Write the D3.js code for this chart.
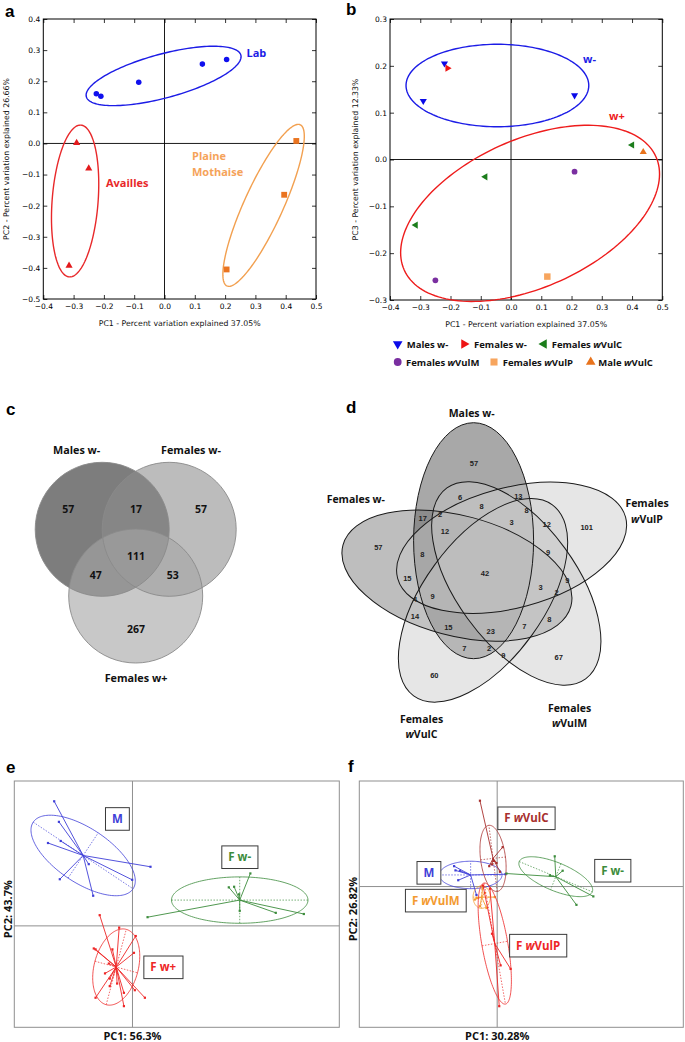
<!DOCTYPE html>
<html><head><meta charset="utf-8">
<script src="https://cdn.jsdelivr.net/npm/d3@7"></script>
<style>body{margin:0;background:#fff}svg{display:block}</style>
</head><body>
<svg id="chart" width="685" height="1042"></svg>
<script>
// ================= DATA =================
// Panel a (PC1 vs PC2)
const ticksAX = [-0.4,-0.3,-0.2,-0.1,0.0,0.1,0.2,0.3,0.4,0.5];
const ticksAY = [-0.5,-0.4,-0.3,-0.2,-0.1,0.0,0.1,0.2,0.3,0.4];
const aLab      = [[-0.225,0.160],[-0.21,0.152],[-0.085,0.197],[0.125,0.255],[0.205,0.270]];
const aAvailles = [[-0.29,0.002],[-0.25,-0.08],[-0.315,-0.393]];
const aPlaine   = [[0.435,0.008],[0.395,-0.165],[0.205,-0.405]];
// ellipses: centre x,y + two semi-axis vectors (data units)
const ellALab      = [-0.003,0.217, 0.255,0.067, 0.019,-0.068];
const ellAAvailles = [-0.295,-0.185, 0.0193,0.244, 0.0756,-0.0058];
const ellAPlaine   = [0.327,-0.199, 0.121,0.259, 0.0585,-0.026];

// Panel b (PC1 vs PC3)
const ticksBX = [-0.4,-0.3,-0.2,-0.1,0.0,0.1,0.2,0.3,0.4,0.5];
const ticksBY = [-0.3,-0.2,-0.1,0.0,0.1,0.2,0.3];
const bMalesWm   = [[-0.22,0.205],[-0.29,0.125],[0.21,0.137]];
const bFemalesWm = [[-0.21,0.195]];
const bFemVulC   = [[0.40,0.031],[-0.085,-0.037],[-0.315,-0.14]];
const bFemVulM   = [[0.21,-0.026],[-0.25,-0.258]];
const bFemVulP   = [[0.12,-0.25]];
const bMaleVulC  = [[0.437,0.016]];
const ellBwMinus = [-0.045,0.158, 0.302,0, 0,0.088];
const ellBwPlus  = [0.063,-0.115, 0.416,0.121, 0.100,-0.144];
const legendBNames = ["Males w-","Females w-","Females *w*VulC","Females *w*VulM","Females *w*VulP","Male *w*VulC"];

// Panel c (3-set Venn)
const vennCSets   = ["Males w-","Females w-","Females w+"];
const vennCCounts = [57,17,57,111,47,53,267];

// Panel d (5-set Venn)
const vennDSets   = ["Males w-","Females w-","Females *w*VulP","Females *w*VulM","Females *w*VulC"];
const vennDCounts = [57,6,13,17,2,8,8,12,3,12,101,57,8,9,42,15,9,3,2,4,9,14,15,23,7,8,7,2,9,67,60];

// Panel e (s.class PC1 56.3% / PC2 43.7%)
const eM   = [[-2.65,4.30],[-2.49,3.59],[-2.43,2.93],[-2.86,2.86],[-1.48,2.13],[-2.46,1.61],[-1.33,1.04],[-0.01,1.59],[0.61,2.04]];
const eFwm = [[3.99,1.81],[3.26,1.33],[3.44,1.35],[3.61,1.09],[3.63,0.52],[4.85,0.45],[5.80,0.41],[0.51,0.30]];
const eFwp = [[-1.11,0.37],[-0.45,-0.06],[0.11,-0.35],[0.05,-0.93],[-1.31,-0.78],[-1.25,-0.81],[-0.68,-0.81],[-0.80,-1.30],[-0.93,-1.64],[-0.77,-1.82],[-0.52,-1.99],[-0.77,-2.08],[-0.29,-2.31],[0.42,-2.48],[-0.29,-2.77],[-1.25,-2.48],[0.08,-2.22]];
const eCentres  = [[-1.67,2.43],[3.63,0.89],[-0.55,-1.42]];
const eEllipses = [[-1.67,2.43,1.69,-1.15,0.51,0.78],[3.63,0.89,2.31,0,0,0.80],[-0.55,-1.42,0.34,1.30,0.72,-0.20]];
const eNames = ["M","F w-","F w+"];

// Panel f (s.class PC1 30.28% / PC2 26.82%)
const fM   = [[-1.25,0.58],[-1.21,0.46],[-1.08,0.45],[-1.13,0.18],[-0.60,-0.24],[0.24,0.35]];
const fVulC= [[-0.50,2.44],[0.16,1.12],[-0.02,0.67],[-0.23,0.58],[-0.15,0.63],[0.08,0.42],[-0.09,0.73]];
const fVulM= [[-0.42,-0.04],[-0.65,-0.37],[-0.60,-0.32],[-0.36,-0.18],[-0.31,-0.61],[-0.50,-0.56],[-0.07,-0.30]];
const fVulP= [[-0.15,-1.34],[0.10,-2.24],[0.39,-2.34],[0.06,-3.40],[-0.41,0.03],[-0.21,-0.06]];
const fFwm = [[1.67,0.86],[1.90,0.45],[1.53,0.32],[2.79,-0.28],[2.30,-0.52],[0.27,0.37]];
const fCentres  = [[-0.77,0.33],[-0.12,0.80],[-0.45,-0.30],[-0.07,-1.62],[1.70,0.28]];
const fEllipses = [[-0.77,0.33,0.91,0,0,0.39],[-0.12,0.80,-0.12,0.94,0.36,0.04],[-0.45,-0.30,0.25,0,0,0.32],[-0.07,-1.62,0.31,-1.72,0.37,0.065],[1.70,0.28,1.06,-0.43,-0.15,-0.37]];
const fNames = ["M","F *w*VulC","F *w*VulM","F *w*VulP","F w-"];

// ================= DRAWING =================
const svg = d3.select("#chart");
svg.append("rect").attr("width",685).attr("height",1042).attr("fill","#fff");
const MPL = "'DejaVu Sans', sans-serif";
const CAL = "'Open Sans', 'Liberation Sans', sans-serif";

function rich(sel, str){
  str.split("*").forEach((p,i)=>{ if(p) sel.append("tspan").attr("font-style", i%2 ? "italic" : "normal").text(p); });
  return sel;
}
function ellPath(x, y, e, n=160){
  const [cx,cy,ux,uy,vx,vy] = e;
  const pts = d3.range(n).map(i=>{const t=2*Math.PI*i/n; return [x(cx+ux*Math.cos(t)+vx*Math.sin(t)), y(cy+uy*Math.cos(t)+vy*Math.sin(t))];});
  return d3.line().curve(d3.curveLinearClosed)(pts);
}

// letters
[["a",5,17],["b",346,15],["c",6,415],["d",346,413],["e",6,773],["f",348,772]].forEach(([t,x,y])=>{
  svg.append("text").attr("x",x).attr("y",y).attr("font-family","'Liberation Sans', Arial, sans-serif").attr("font-weight","bold").attr("font-size",17).attr("fill","#000").text(t);
});

function mplAxes(x, y, xTicks, yTicks, xLab, yLab, yLabX){
  const g = svg.append("g");
  const [xa,xb] = x.range(), [ya,yb] = y.range();
  g.append("line").attr("x1",x(0)).attr("x2",x(0)).attr("y1",yb).attr("y2",ya).attr("stroke","#000").attr("stroke-width",0.9);
  g.append("line").attr("x1",xa).attr("x2",xb).attr("y1",y(0)).attr("y2",y(0)).attr("stroke","#000").attr("stroke-width",0.9);
  const fmt = d3.format(".1f");
  const st = s=>{ s.select(".domain").remove(); s.attr("font-family",null).attr("font-size",null);
    s.selectAll("text").attr("font-family",MPL).attr("font-size",7.5).attr("fill","#000");
    s.selectAll("line").attr("stroke","#000").attr("stroke-width",0.8); };
  g.append("g").attr("transform",`translate(0,${ya})`).call(d3.axisBottom(x).tickValues(xTicks).tickFormat(fmt).tickSize(-4).tickPadding(5)).call(st);
  g.append("g").attr("transform",`translate(0,${yb})`).call(d3.axisTop(x).tickValues(xTicks).tickFormat("").tickSize(-4)).call(st);
  g.append("g").attr("transform",`translate(${xa},0)`).call(d3.axisLeft(y).tickValues(yTicks).tickFormat(fmt).tickSize(-4).tickPadding(3)).call(st);
  g.append("g").attr("transform",`translate(${xb},0)`).call(d3.axisRight(y).tickValues(yTicks).tickFormat("").tickSize(-4)).call(st);
  g.append("rect").attr("x",xa).attr("y",yb).attr("width",xb-xa).attr("height",ya-yb).attr("fill","none").attr("stroke","#000").attr("stroke-width",1);
  g.append("text").attr("x",(xa+xb)/2).attr("y",ya+27).attr("text-anchor","middle").attr("font-family",MPL).attr("font-size",7.8).attr("fill","#111").text(xLab);
  g.append("text").attr("transform",`translate(${yLabX},${(ya+yb)/2}) rotate(-90)`).attr("text-anchor","middle").attr("font-family",MPL).attr("font-size",7.8).attr("fill","#111").text(yLab);
  return g;
}
function markers(g, x, y, data, type, size, rot, color){
  g.selectAll(null).data(data).join("path").attr("d",d3.symbol().type(type).size(size)())
    .attr("transform",d=>`translate(${x(d[0])},${y(d[1])}) rotate(${rot})`).attr("fill",color);
}

// ---- Panel a ----
{
  const x = d3.scaleLinear().domain([-0.4,0.5]).range([43.3,316]);
  const y = d3.scaleLinear().domain([-0.5,0.4]).range([299,19]);
  const g = mplAxes(x,y,ticksAX,ticksAY,"PC1 - Percent variation explained 37.05%","PC2 - Percent variation explained 26.66%",9);
  [[ellALab,"#1c1ce6"],[ellAAvailles,"#e8282a"],[ellAPlaine,"#f2a050"]].forEach(([e,c])=>
    g.append("path").attr("d",ellPath(x,y,e)).attr("fill","none").attr("stroke",c).attr("stroke-width",1.4));
  markers(g,x,y,aLab,d3.symbolCircle,24,0,"#1010ee");
  markers(g,x,y,aAvailles,d3.symbolTriangle,22,0,"#e31a1c");
  markers(g,x,y,aPlaine,d3.symbolSquare,34,0,"#ea7420");
  const lbl=(t,xx,yy,c)=>g.append("text").attr("x",xx).attr("y",yy).attr("font-family",CAL).attr("font-weight","bold").attr("font-size",11).attr("fill",c).text(t);
  lbl("Lab",246.5,57,"#1c1ce6"); lbl("Availles",106,187,"#e8282a"); lbl("Plaine",192,160,"#f5a35a"); lbl("Mothaise",192,175.5,"#f5a35a");
}

// ---- Panel b ----
const colB = {blue:"#0a0ae8", red:"#ee1414", green:"#1b7d1b", purple:"#7a2fa0", orangeL:"#f7a55e", orange:"#e8731c"};
{
  const x = d3.scaleLinear().domain([-0.4,0.5]).range([390,662.3]);
  const y = d3.scaleLinear().domain([-0.3,0.3]).range([300,19]);
  const g = mplAxes(x,y,ticksBX,ticksBY,"PC1 - Percent variation explained 37.05%","PC3 - Percent variation explained 12.33%",358);
  g.append("path").attr("d",ellPath(x,y,ellBwMinus)).attr("fill","none").attr("stroke","#1c1ce6").attr("stroke-width",1.4);
  g.append("path").attr("d",ellPath(x,y,ellBwPlus)).attr("fill","none").attr("stroke","#ee1c1c").attr("stroke-width",1.4);
  markers(g,x,y,bMalesWm,d3.symbolTriangle,22,180,colB.blue);
  markers(g,x,y,bFemalesWm,d3.symbolTriangle,22,90,colB.red);
  markers(g,x,y,bFemVulC,d3.symbolTriangle,22,-90,colB.green);
  markers(g,x,y,bFemVulM,d3.symbolCircle,26,0,colB.purple);
  markers(g,x,y,bFemVulP,d3.symbolSquare,42,0,colB.orangeL);
  markers(g,x,y,bMaleVulC,d3.symbolTriangle,22,0,colB.orange);
  const lbl=(t,xx,yy,c)=>g.append("text").attr("x",xx).attr("y",yy).attr("font-family",CAL).attr("font-weight","bold").attr("font-size",11).attr("fill",c).text(t);
  lbl("w-",583,62.5,"#1c1ce6"); lbl("w+",609,120,"#ee1c1c");
  // legend
  const items = [
    [d3.symbolTriangle,180,colB.blue,397.7,344,406.7],
    [d3.symbolTriangle,90,colB.red,464,344,474],
    [d3.symbolTriangle,-90,colB.green,544,344,551.7],
    [d3.symbolCircle,0,colB.purple,397.7,362,406],
    [d3.symbolSquare,0,colB.orangeL,494,362,502.7],
    [d3.symbolTriangle,0,colB.orange,590.7,362,598.3]];
  items.forEach(([t,r,c,mx,my,tx],i)=>{
    svg.append("path").attr("d",d3.symbol().type(t).size(t===d3.symbolSquare?50:(t===d3.symbolCircle?48:40))()).attr("transform",`translate(${mx},${my}) rotate(${r})`).attr("fill",c);
    rich(svg.append("text").attr("x",tx).attr("y",my+3.6).attr("font-family",CAL).attr("font-weight","bold").attr("font-size",9.5).attr("fill","#111"), legendBNames[i]);
  });
}

// ---- Panel c ----
{
  const g = svg.append("g");
  const circ = [[102.2,529.3,"#7d7d7d",1],[169.2,529.3,"#8d8d8d",0.59],[135.7,596,"#a6a6a6",0.615]];
  circ.forEach(([cx,cy,f,o])=>g.append("circle").attr("cx",cx).attr("cy",cy).attr("r",67).attr("fill",f).attr("fill-opacity",o));
  circ.forEach(([cx,cy])=>g.append("circle").attr("cx",cx).attr("cy",cy).attr("r",67).attr("fill","none").attr("stroke","#8a8a8a").attr("stroke-width",0.9));
  const setPos = [[76.7,454],[191,454],[136,681.5]];
  vennCSets.forEach((s,i)=>g.append("text").attr("x",setPos[i][0]).attr("y",setPos[i][1]).attr("text-anchor","middle").attr("font-family",CAL).attr("font-weight","bold").attr("font-size",10.8).attr("fill","#111").text(s));
  const numPos = [[68.3,509],[136,509],[201,509],[136,556],[95.7,575.7],[172.7,575.7],[136,629]];
  vennCCounts.forEach((v,i)=>g.append("text").attr("x",numPos[i][0]).attr("y",numPos[i][1]).attr("dy","0.35em").attr("text-anchor","middle").attr("font-family",CAL).attr("font-weight","bold").attr("font-size",10.5).attr("fill","#111").text(v));
}

// ---- Panel d ----
{
  const g = svg.append("g");
  const R = [488,569], d = [-14.4,-28.3];
  const sets = [[0,"#a8a8a8",1],[-75,"#666666",0.425],[75,"#c7c7c7",0.45],[144,"#c7c7c7",0.45],[-144,"#c7c7c7",0.45]];
  const el = (s)=> g.append("ellipse").attr("cx",R[0]+d[0]).attr("cy",R[1]+d[1]).attr("rx",60).attr("ry",118).attr("transform",`rotate(${s[0]},${R[0]},${R[1]})`);
  sets.forEach(s=>el(s).attr("fill",s[1]).attr("fill-opacity",s[2]));
  sets.forEach(s=>el(s).attr("fill","none").attr("stroke","#1a1a1a").attr("stroke-width",1));
  const numOff = [[-14,-105.7],[-28,-71.3],[30.3,-73],[-65.3,-50.3],[-48,-55],[-6.3,-62.3],[38.7,-59],[-43,-38],[23.7,-46.7],[58.7,-45],[98.7,-41.3],[-109.7,-21.3],[-65.7,-14.7],[60,-16.7],[-3,4.3],[-80.7,9.3],[79.3,11.7],[52.7,18.7],[68.7,23.7],[-73,30.3],[-55.3,27],[-73,47.7],[-39.7,58.3],[2.7,62],[36.3,57.7],[61.3,50.3],[-23.7,79.3],[1,79.3],[15.3,86],[70.7,88.3],[-53.7,106]];
  vennDCounts.forEach((v,i)=>g.append("text").attr("x",R[0]+numOff[i][0]).attr("y",R[1]+numOff[i][1]).attr("dy","0.35em").attr("text-anchor","middle").attr("font-family","'Liberation Sans', Arial, sans-serif").attr("font-weight","bold").attr("font-size",7.5).attr("fill","#222").text(v));
  const lab = (str,xx,yy)=> rich(g.append("text").attr("x",xx).attr("y",yy).attr("text-anchor","middle").attr("font-family",CAL).attr("font-weight","bold").attr("font-size",10.5).attr("fill","#111"), str);
  lab(vennDSets[0],471.7,416.7);
  lab(vennDSets[1],355.8,502.7);
  const two = (str,xx,y1,y2)=>{ const p=str.split(" "); lab(p[0],xx,y1); lab(p.slice(1).join(" "),xx,y2); };
  two(vennDSets[2],647,507,522.5);
  two(vennDSets[3],569.5,711.7,727);
  two(vennDSets[4],421.5,722.7,738);
}

// ---- Panels e, f (s.class plots) ----
function sclass(x, y, groups, centres, ellipses, colors, names, labelPos, xLab, yLab, yLabX){
  const g = svg.append("g");
  const [xa,xb]=x.range(), [ya,yb]=y.range();
  g.append("line").attr("x1",x(0)).attr("x2",x(0)).attr("y1",yb).attr("y2",ya).attr("stroke","#8f8f8f").attr("stroke-width",1);
  g.append("line").attr("x1",xa).attr("x2",xb).attr("y1",y(0)).attr("y2",y(0)).attr("stroke","#8f8f8f").attr("stroke-width",1);
  g.append("rect").attr("x",xa).attr("y",yb).attr("width",xb-xa).attr("height",ya-yb).attr("fill","none").attr("stroke","#8f8f8f").attr("stroke-width",1);
  groups.forEach((pts,i)=>{
    const c = centres[i], e = ellipses[i], col = colors[i];
    g.append("path").attr("d",ellPath(x,y,e)).attr("fill","none").attr("stroke",col).attr("stroke-width",0.8);
    [[e[2],e[3]],[e[4],e[5]]].forEach(([ux,uy])=>g.append("line").attr("x1",x(e[0]-ux)).attr("y1",y(e[1]-uy)).attr("x2",x(e[0]+ux)).attr("y2",y(e[1]+uy)).attr("stroke",col).attr("stroke-width",0.7).attr("stroke-dasharray","1.5,1.5"));
    g.selectAll(null).data(pts).join("line").attr("x1",x(c[0])).attr("y1",y(c[1])).attr("x2",d=>x(d[0])).attr("y2",d=>y(d[1])).attr("stroke",col).attr("stroke-width",0.9);
    g.selectAll(null).data(pts).join("rect").attr("x",d=>x(d[0])-1.1).attr("y",d=>y(d[1])-1.1).attr("width",2.2).attr("height",2.2).attr("fill",col);
  });
  names.forEach((n,i)=>{
    const t = rich(g.append("text").attr("x",x(labelPos[i][0])).attr("y",y(labelPos[i][1])).attr("dy","0.36em").attr("text-anchor","middle").attr("font-family",CAL).attr("font-weight","bold").attr("font-size",11.5).attr("fill",colors[i]), n);
    const bb = t.node().getBBox();
    g.insert("rect", () => t.node()).attr("x",bb.x-6.5).attr("y",y(labelPos[i][1])-11.3).attr("width",bb.width+13).attr("height",22.6).attr("fill","#fff").attr("stroke","#3a3a3a").attr("stroke-width",1);
  });
  g.append("text").attr("x",x(0)).attr("y",1040).attr("text-anchor","middle").attr("font-family",CAL).attr("font-weight","bold").attr("font-size",11).attr("fill","#111").text(xLab);
  g.append("text").attr("transform",`translate(${yLabX},${(ya+yb)/2+5}) rotate(-90)`).attr("text-anchor","middle").attr("font-family",CAL).attr("font-weight","bold").attr("font-size",11).attr("fill","#111").text(yLab);
}
{
  const x = d3.scaleLinear().domain([-4,7]).range([14.3,339.3]);
  const y = d3.scaleLinear().domain([-3.5,5]).range([1027.3,781]);
  sclass(x,y,[eM,eFwm,eFwp],eCentres,eEllipses,["#3f3fd8","#3c8c3c","#ee2626"],eNames,
    [[-0.51,3.69],[3.63,2.37],[1.04,-1.43]],"PC1: 56.3%","PC2: 43.7%",11.5);
}
{
  const x = d3.scaleLinear().domain([-4,5.4]).range([359.3,683.3]);
  const y = d3.scaleLinear().domain([-4,3]).range([1027.3,781]);
  sclass(x,y,[fM,fVulC,fVulM,fVulP,fFwm],fCentres,fEllipses,["#3f3fd8","#a8302e","#f39a30","#ee2626","#3c8c3c"],fNames,
    [[-1.98,0.39],[0.85,1.94],[-1.78,-0.40],[1.19,-1.68],[3.35,0.45]],"PC1: 30.28%","PC2: 26.82%",356.5);
}
</script>
</body></html>
